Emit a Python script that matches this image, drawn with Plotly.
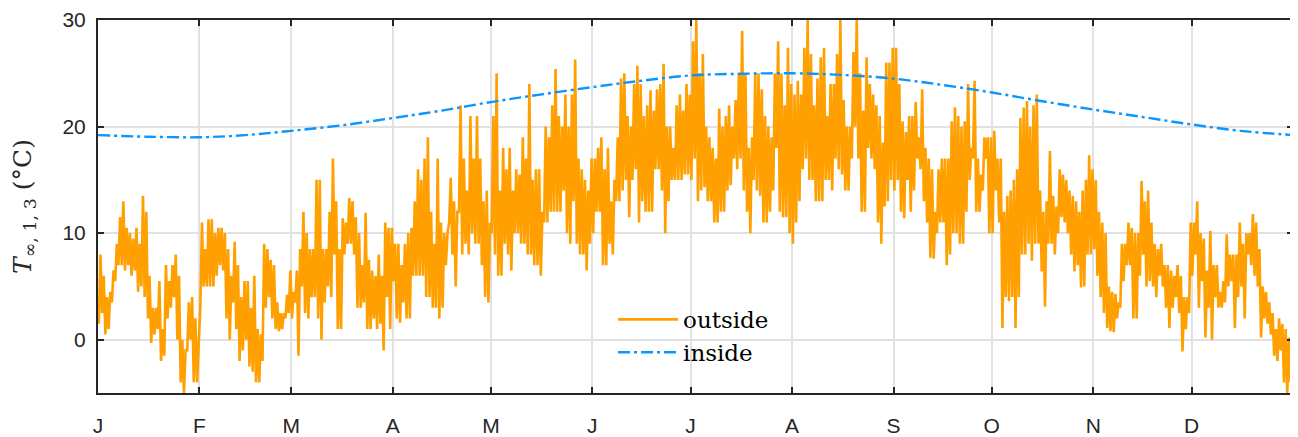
import plotly.graph_objects as go

# ---------------- data ----------------
month_labels = ["J", "F", "M", "A", "M", "J", "J", "A", "S", "O", "N", "D"]
month_start_day = [0, 31, 59, 90, 120, 151, 181, 212, 243, 273, 304, 334]
year_days = 365

# outside temperature: daily low / daily high (degC), read per month
low_jan = [1.5, 2.5, 0.5, 1, 3.5, 5.5, 7, 7, 6.5, 7, 6, 6.5, 4.5, 5, 4, 2, -0.3, 0.5, 1, -2, -1.5, 2, 3, 4, 0, -4, -5, -1, 0, -4, -4]
high_jan = [8, 6, 4, 4.5, 6.5, 9, 11.5, 13, 10.5, 10, 9.5, 10.5, 9, 13.5, 12, 6, 3, 3, 5.5, 1, 7, 5.5, 7, 8, 6, 0, -1, 3.5, 4, 2, 0]
low_feb = [3, 5, 5, 5, 5, 6, 7, 6.5, 2, 0, 3.5, 1, -2, -1, 0, -2.5, -3, -4, -4, -2, 3, 4, 2, 1, 0.8, 1, 2, 2.5]
high_feb = [11, 8.5, 11.3, 11.3, 10, 10.5, 10.5, 10, 8.5, 6, 9.2, 7, 4, 5.5, 5.5, 3, 6, 1, 0.5, 9, 8.5, 7.5, 7, 3.5, 2.5, 2.5, 4.2, 6.5]
low_mar = [2, 3.5, -1.5, 5, 2.5, 2, 4, 4, 2, 0, 3.5, 5, 4, 8, 1, 1, 8, 9, 9, 8, 3, 3, 3.5, 1, 1, 2, 1, 1.5, -1, 4, 1]
high_mar = [4.5, 6.5, 8.5, 12, 10, 8.5, 8.5, 15, 15, 8.5, 8.5, 12, 17, 13, 8.5, 11.4, 11, 13.3, 13, 11.5, 10, 7, 11.9, 7.5, 6.5, 6, 8, 6, 11, 10.5, 10.5]
low_apr = [5.5, 2, 1.6, 3.5, 2, 2, 6, 6, 6, 6, 4, 4, 3, 3, 2, 3, 7, 11, 8, 5, 12, 8, 9, 8, 10, 9, 9, 7, 4, 3.5]
high_apr = [9, 9, 7, 9, 10, 10.5, 13, 16, 15, 17, 19, 12, 9, 17, 11, 10, 10, 15.2, 13, 12, 22, 17, 14, 21, 17, 21, 17, 13, 14, 11]
low_may = [10, 8, 6, 6, 9, 8, 6.5, 10, 10, 9, 9, 8, 8, 7, 7, 6, 11, 11, 12, 12, 12, 12, 14, 10, 9, 13, 9, 8, 8, 6.5, 9]
high_may = [21, 25, 14, 18, 16, 18, 14, 16, 15.5, 19, 17, 24, 15, 16, 16, 12, 20, 19, 22, 25.4, 21, 20, 23, 20, 23, 26.3, 17, 16, 15, 14, 17]
low_jun = [10, 12, 12, 7, 7, 9, 8, 13, 13, 14, 15, 11.5, 15, 16, 11, 13, 12, 12, 12, 16, 16, 14, 10, 13, 15, 15, 15, 15, 15.5, 15.5]
high_jun = [17, 18, 19, 16, 18, 13, 15, 19, 24.5, 25, 21, 20, 24, 25.7, 24, 21, 22, 23.4, 21.5, 23.5, 24, 25.9, 20, 20, 18, 22, 23, 21.5, 24, 23]
low_jul = [15, 17, 13, 14, 14.3, 13, 13, 11, 11, 12, 12, 14, 14.5, 17, 16, 17, 14, 12, 10, 15, 14, 13.5, 11, 11, 12, 14, 18, 12, 11.5, 11.5, 10]
high_jul = [28, 30, 25, 26.8, 20, 19, 18, 17, 21.7, 20, 21, 22, 20, 22.5, 25, 29, 25, 18, 19, 25, 25, 23.5, 21, 20, 19, 25, 28, 25, 22, 27.4, 24]
low_aug = [9, 11, 13, 16, 17, 15, 15, 13, 13, 13, 15, 15, 14, 17, 16, 15.5, 14, 14, 17, 20, 17, 12, 12, 18, 17, 16, 11, 9, 12.5, 13, 15]
high_aug = [23, 24.3, 23, 27.4, 30, 26.8, 22, 24.5, 26.5, 27.4, 21, 24, 24, 26.8, 30, 22.5, 20, 20, 27, 30, 25, 21.5, 26.5, 24, 23, 22, 21, 18.5, 26, 26, 27.4]
low_sep = [14, 15, 12, 11.4, 15, 12, 14, 17, 16, 13, 11, 7.7, 7.6, 10, 11, 11, 7, 8, 10, 10, 9, 9, 12, 15, 17, 12, 12, 14, 17, 10]
high_sep = [27.4, 24, 20.5, 19.5, 21, 21, 22.3, 19, 23.5, 18, 17, 16, 12, 16, 17, 17, 17, 20.5, 21.8, 21, 20, 20.5, 24, 18, 24.3, 17, 15.5, 19, 19, 19]
low_oct = [10, 14, 11, 1.1, 4, 3.6, 4, 1.1, 4, 8, 8, 9, 7.4, 9, 9, 6.4, 3.1, 9, 9, 8, 10, 11.5, 11, 10, 8, 6.4, 7, 4.9, 5, 8, 8]
high_oct = [19.6, 17, 17, 12, 13.5, 14, 15, 16, 20.8, 21.8, 22.4, 20, 22, 23, 14, 12, 13, 17.7, 13.5, 12.5, 16, 15.5, 15, 14, 13.5, 13, 12, 14, 15, 17.3, 16]
low_nov = [8.5, 6, 4, 2.5, 1.1, 0.8, 0.7, 2, 3, 5.5, 7, 7, 2, 2, 6, 8, 5, 5.5, 5, 4, 6, 5, 3, 1.1, 3, 4, 2.5, -1.1, 1, 2.5]
high_nov = [15, 12, 11, 10, 5, 4.5, 4.3, 3.5, 9, 9, 11, 10.5, 10, 10, 14.9, 13, 14, 11, 9, 8.5, 9, 7, 7, 6.5, 6, 7, 6, 4, 4, 11]
low_dec = [6, 8, 3, 5.5, 0.2, 3, 0, 4, 3, 3, 3.5, 5, 5.5, 1.1, 4, 5, 2, 8, 7, 6, 5, 0.2, 2, 1.5, 0.5, -1.5, -2, -1, -4, -5, -4]
high_dec = [11, 13, 10, 9.5, 6.5, 10.2, 7, 7, 4.5, 5.5, 9.9, 8, 8, 8, 11, 9, 10, 10, 11.8, 11, 8.5, 5, 4.5, 3.5, 2.5, 1, 2, 1.5, 1, 0.2, 0.2]

# inside temperature (degC) read at selected days
inside_day = [0, 15, 31, 45, 59, 74, 90, 105, 120, 135, 151, 166, 181, 196, 212, 227, 243, 258, 273, 288, 304, 319, 334, 349, 365]
inside_temp = [19.2, 19.05, 19.0, 19.2, 19.6, 20.1, 20.8, 21.5, 22.3, 23.0, 23.7, 24.3, 24.8, 24.95, 25.0, 24.85,
               24.5, 23.9, 23.2, 22.4, 21.6, 20.9, 20.2, 19.6, 19.2]

# ---------------- build outside series ----------------
lows = (low_jan + low_feb + low_mar + low_apr + low_may + low_jun + low_jul + low_aug
        + low_sep + low_oct + low_nov + low_dec)
highs = (high_jan + high_feb + high_mar + high_apr + high_may + high_jun + high_jul + high_aug
         + high_sep + high_oct + high_nov + high_dec)

out_x, out_y = [], []
for d, (lo, hi) in enumerate(zip(lows, highs)):
    out_x += [d + 0.25, d + 0.75]
    out_y += [lo, hi]

ORANGE = "#FFA000"
BLUE = "#0A96FF"
AXC = "#262626"
GRID = "#E1E1E1"

fig = go.Figure()
fig.add_trace(go.Scatter(
    x=out_x, y=out_y, mode="lines", name="outside",
    line=dict(color=ORANGE, width=2.6)))
fig.add_trace(go.Scatter(
    x=inside_day, y=inside_temp, mode="lines", name="inside",
    line=dict(color=BLUE, width=2.4, dash="12px,4px,3px,4px", shape="spline")))

# the page body has an 8 px margin, so the figure is sized/offset to compensate
fig.update_layout(
    width=1290, height=429,
    margin=dict(l=90, r=5, t=12, b=44),
    plot_bgcolor="white", paper_bgcolor="white",
    font=dict(family="Liberation Sans, Arial, sans-serif", size=21, color=AXC),
    legend=dict(x=0.431, y=0.255, xanchor="left", yanchor="top",
                bgcolor="rgba(0,0,0,0)", borderwidth=0, itemwidth=60,
                font=dict(family="DejaVu Serif, serif", size=23, color="#000000")),
    showlegend=True,
)
fig.update_xaxes(
    range=[0, year_days], tickmode="array", tickvals=month_start_day, ticktext=month_labels,
    showgrid=True, gridcolor=GRID, gridwidth=2, zeroline=False,
    showline=True, linecolor=AXC, linewidth=2, mirror="ticks",
    ticks="inside", ticklen=6, tickwidth=2, tickcolor=AXC,
    tickfont=dict(size=21, color=AXC), ticklabelstandoff=13, automargin=False,
)
fig.update_yaxes(
    range=[-5, 30], tickmode="array", tickvals=[0, 10, 20, 30],
    showgrid=True, gridcolor=GRID, gridwidth=2, zeroline=False,
    showline=True, linecolor=AXC, linewidth=2, mirror="ticks",
    ticks="inside", ticklen=6, tickwidth=2, tickcolor=AXC,
    tickfont=dict(size=21, color=AXC), ticklabelstandoff=6, automargin=False,
    title=dict(text="<i>T</i><sub>∞, 1, 3</sub> (°C)",
               font=dict(family="DejaVu Serif, serif", size=25, color=AXC), standoff=24),
)

fig.write_html("out.html")
